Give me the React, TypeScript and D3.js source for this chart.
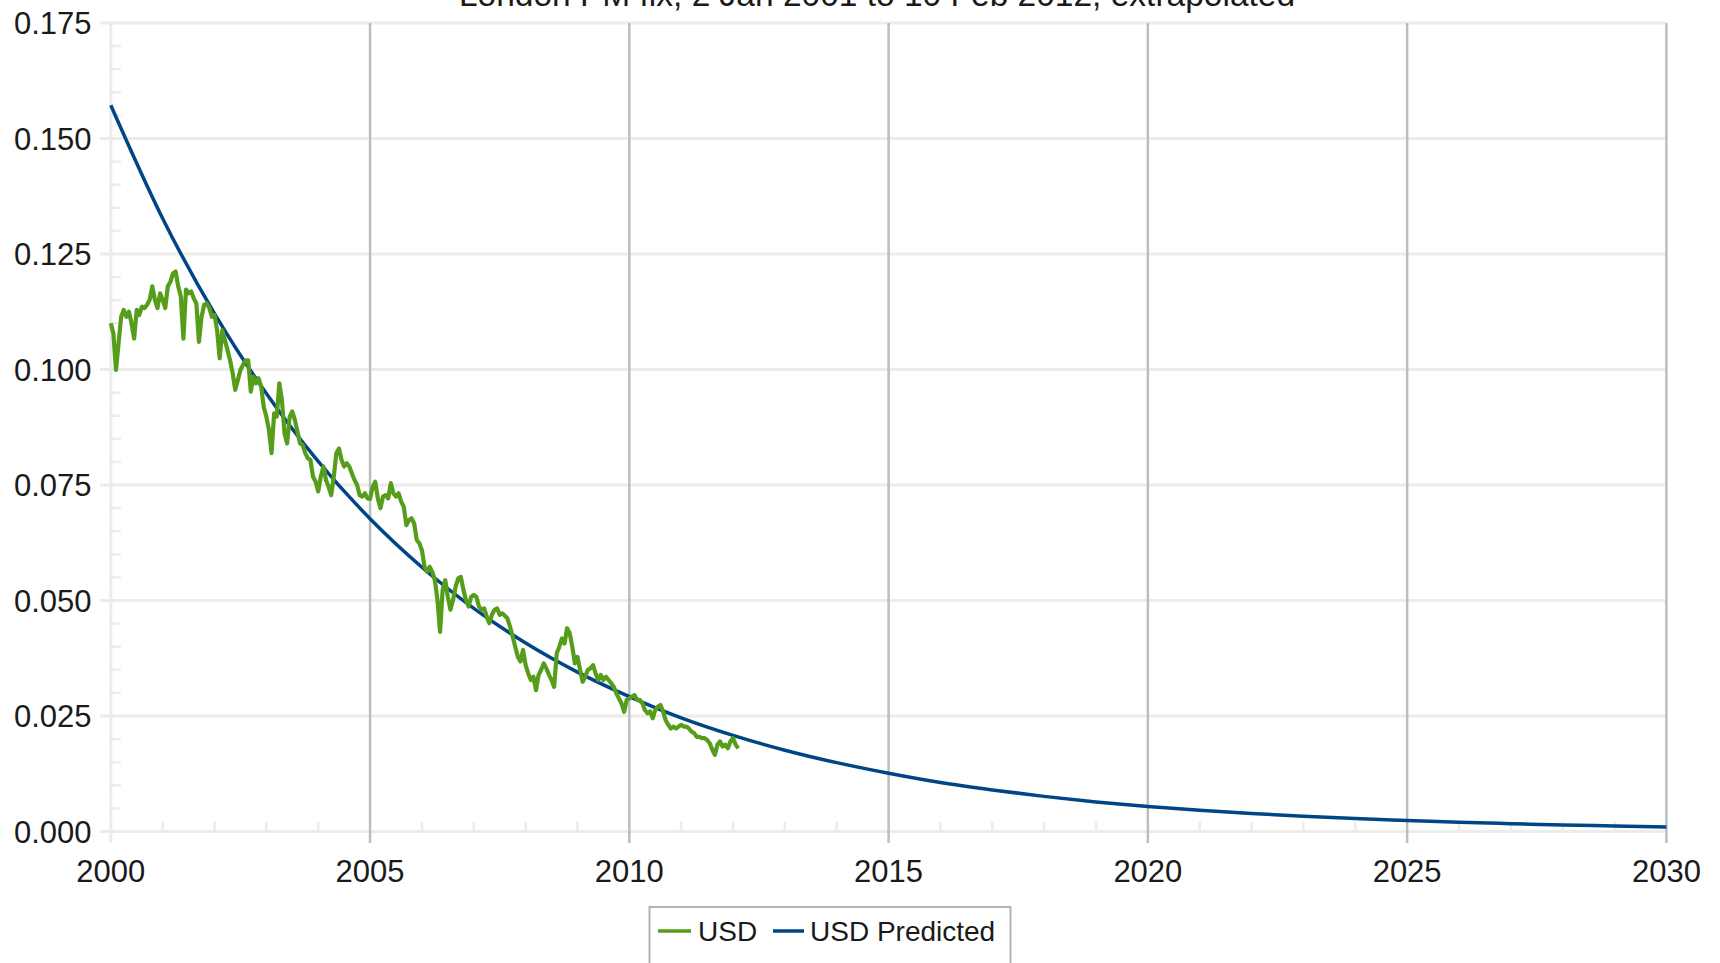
import React from 'react';
import * as d3 from 'd3';

const chartTitle = 'London PM fix, 2 Jan 2001 to 10 Feb 2012, extrapolated';
const yTickValues = [0, 0.025, 0.05, 0.075, 0.1, 0.125, 0.15, 0.175];
const xTickValues = [2000, 2005, 2010, 2015, 2020, 2025, 2030];
const seriesNames = ['USD', 'USD Predicted'];
const seriesColors = ['#579d1c', '#004586'];

// USD observed series, sampled every 0.05 year from 2000.0
const usdStartYear = 2000;
const usdStepYears = 0.05;
const usdValues = [
  0.1100, 0.1078, 0.0999, 0.1057, 0.1114, 0.1129, 0.1114, 0.1125, 0.1100, 0.1067,
  0.1129, 0.1118, 0.1136, 0.1133, 0.1140, 0.1151, 0.1180, 0.1151, 0.1133, 0.1165,
  0.1151, 0.1133, 0.1180, 0.1190, 0.1208, 0.1212, 0.1180, 0.1158, 0.1067, 0.1173,
  0.1165, 0.1169, 0.1154, 0.1143, 0.1060, 0.1114, 0.1140, 0.1143, 0.1133, 0.1114,
  0.1118, 0.1085, 0.1024, 0.1085, 0.1064, 0.1042, 0.1020, 0.0992, 0.0956, 0.0977,
  0.0999, 0.1010, 0.1020, 0.1020, 0.0952, 0.0984, 0.0970, 0.0981, 0.0963, 0.0919,
  0.0898, 0.0869, 0.0819, 0.0905, 0.0898, 0.0970, 0.0934, 0.0862, 0.0840, 0.0898,
  0.0909, 0.0891, 0.0865, 0.0840, 0.0837, 0.0819, 0.0808, 0.0804, 0.0768, 0.0757,
  0.0736, 0.0768, 0.0790, 0.0761, 0.0746, 0.0728, 0.0768, 0.0819, 0.0829, 0.0804,
  0.0790, 0.0797, 0.0790, 0.0775, 0.0761, 0.0750, 0.0728, 0.0725, 0.0732, 0.0721,
  0.0720, 0.0746, 0.0757, 0.0721, 0.0700, 0.0725, 0.0728, 0.0721, 0.0754, 0.0732,
  0.0725, 0.0732, 0.0714, 0.0703, 0.0663, 0.0674, 0.0678, 0.0667, 0.0631, 0.0624,
  0.0609, 0.0573, 0.0562, 0.0573, 0.0562, 0.0544, 0.0501, 0.0432, 0.0523, 0.0544,
  0.0508, 0.0480, 0.0501, 0.0530, 0.0548, 0.0551, 0.0523, 0.0501, 0.0487, 0.0508,
  0.0512, 0.0508, 0.0487, 0.0480, 0.0483, 0.0465, 0.0451, 0.0469, 0.0480, 0.0483,
  0.0469, 0.0472, 0.0467, 0.0461, 0.0443, 0.0422, 0.0400, 0.0378, 0.0368, 0.0393,
  0.0360, 0.0342, 0.0328, 0.0335, 0.0306, 0.0339, 0.0350, 0.0364, 0.0353, 0.0339,
  0.0328, 0.0313, 0.0386, 0.0400, 0.0418, 0.0407, 0.0440, 0.0429, 0.0400, 0.0364,
  0.0378, 0.0350, 0.0324, 0.0335, 0.0350, 0.0353, 0.0360, 0.0342, 0.0328, 0.0339,
  0.0328, 0.0335, 0.0328, 0.0321, 0.0313, 0.0299, 0.0288, 0.0277, 0.0259, 0.0285,
  0.0288, 0.0292, 0.0295, 0.0285, 0.0285, 0.0278, 0.0263, 0.0256, 0.0260, 0.0245,
  0.0263, 0.0270, 0.0274, 0.0260, 0.0241, 0.0231, 0.0223, 0.0227, 0.0223, 0.0227,
  0.0231, 0.0227, 0.0227, 0.0223, 0.0216, 0.0213, 0.0205, 0.0205, 0.0202, 0.0202,
  0.0198, 0.0191, 0.0177, 0.0166, 0.0188, 0.0195, 0.0184, 0.0188, 0.0180, 0.0195,
  0.0202, 0.0188, 0.0180,
];

const predictedYears = [
  2000, 2001, 2002, 2003, 2004, 2005, 2006, 2007, 2008, 2009, 2010,
  2011, 2012, 2013, 2014, 2015, 2016, 2017, 2018, 2019, 2020,
  2021, 2022, 2023, 2024, 2025, 2026, 2027, 2028, 2029, 2030,
];
const predictedValues = [
  0.1572, 0.1327, 0.1121, 0.0948, 0.0801, 0.0677, 0.0572, 0.0483, 0.0408, 0.0345, 0.0292,
  0.0246, 0.0208, 0.0176, 0.0149, 0.0126, 0.0106, 0.0090, 0.0076, 0.0064, 0.0054,
  0.0046, 0.0039, 0.0033, 0.0028, 0.0024, 0.0020, 0.0017, 0.0014, 0.0012, 0.0010,
];

const FONT = '"Liberation Sans", Arial, sans-serif';

export default function App() {
  const W = 1720;
  const H = 963;
  const x = d3.scaleLinear().domain([2000, 2030]).range([110.8, 1666.4]);
  const y = d3.scaleLinear().domain([0, 0.175]).range([831.5, 23]);

  const usdPoints: [number, number][] = usdValues.map((v, i) => [usdStartYear + i * usdStepYears, v]);
  const predPoints: [number, number][] = predictedYears.map((yr, i) => [yr, predictedValues[i]]);

  const usdLine = d3.line<[number, number]>().x((d) => x(d[0])).y((d) => y(d[1]));
  const predLine = d3
    .line<[number, number]>()
    .x((d) => x(d[0]))
    .y((d) => y(d[1]))
    .curve(d3.curveMonotoneX);

  const xMinor = d3.range(2000, 2031).filter((v) => v % 5 !== 0);
  const yMinor = d3.range(0, 176, 5).map((v) => v / 1000).filter((v) => Math.round(v * 1000) % 25 !== 0);

  const light = '#ececec';
  const grid = '#bdbdbd';
  const fmt = d3.format('.3f');

  return (
    <svg
      width={W}
      height={H}
      style={{ position: 'absolute', left: 0, top: 0, background: '#fff' }}
      fontFamily={FONT}
    >
      <rect x={0} y={0} width={W} height={H} fill="#fff" />
      <text x={877} y={6} textAnchor="middle" fontSize={33.5} fill="#1a1a1a">
        {chartTitle}
      </text>

      {/* horizontal gridlines */}
      {yTickValues.map((v) => (
        <line key={'hg' + v} x1={100} x2={x(2030)} y1={y(v)} y2={y(v)} stroke={light} strokeWidth={3} />
      ))}
      {/* y minor ticks */}
      {yMinor.map((v) => (
        <line key={'ym' + v} x1={x(2000) - 2} x2={x(2000) + 10} y1={y(v)} y2={y(v)} stroke={light} strokeWidth={2.5} />
      ))}
      {/* x minor ticks */}
      {xMinor.map((v) => (
        <line key={'xm' + v} x1={x(v)} x2={x(v)} y1={y(0)} y2={y(0) - 10} stroke={light} strokeWidth={2.5} />
      ))}
      {/* left axis */}
      <line x1={x(2000)} x2={x(2000)} y1={y(0.175)} y2={843} stroke={light} strokeWidth={3} />
      {/* vertical gridlines */}
      {xTickValues.filter((v) => v !== 2000).map((v) => (
        <line key={'vg' + v} x1={x(v)} x2={x(v)} y1={y(0.175)} y2={843} stroke={grid} strokeWidth={2.5} />
      ))}

      {/* y labels */}
      {yTickValues.map((v) => (
        <text key={'yl' + v} x={91.5} y={y(v)} dy="0.36em" textAnchor="end" fontSize={31} fill="#1a1a1a">
          {fmt(v)}
        </text>
      ))}
      {/* x labels */}
      {xTickValues.map((v) => (
        <text key={'xl' + v} x={x(v)} y={881.5} textAnchor="middle" fontSize={31} fill="#1a1a1a">
          {v}
        </text>
      ))}

      {/* series */}
      <path d={predLine(predPoints) || ''} fill="none" stroke={seriesColors[1]} strokeWidth={3.5} />
      <path d={usdLine(usdPoints) || ''} fill="none" stroke={seriesColors[0]} strokeWidth={4.2} strokeLinejoin="round" />

      {/* legend */}
      <rect x={649.5} y={907} width={361} height={70} fill="#fff" stroke="#b3b3b3" strokeWidth={2} />
      <line x1={658} x2={691} y1={931} y2={931} stroke={seriesColors[0]} strokeWidth={3.5} />
      <text x={698} y={931} dy="0.36em" fontSize={28} fill="#1a1a1a">
        {seriesNames[0]}
      </text>
      <line x1={773} x2={804} y1={931} y2={931} stroke={seriesColors[1]} strokeWidth={3.5} />
      <text x={810} y={931} dy="0.36em" fontSize={28} fill="#1a1a1a">
        {seriesNames[1]}
      </text>
    </svg>
  );
}
